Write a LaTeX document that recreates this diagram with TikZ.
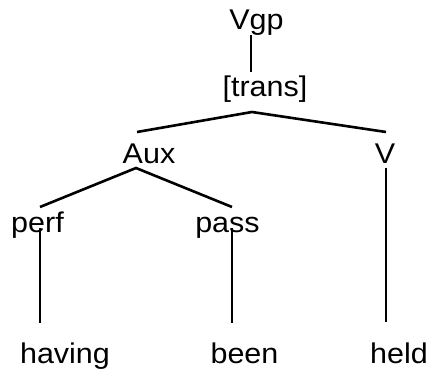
\documentclass[tikz,border=0pt]{standalone}
\usepackage{fontspec}
\setmainfont{Liberation Sans}[FakeStretch=1.07]
\begin{document}
\begin{tikzpicture}[x=1pt,y=-1pt,
  lbl/.style={anchor=base,inner sep=0pt,font=\fontsize{28.5}{30}\selectfont},
  branch/.style={line width=2.6pt,line cap=butt,line join=miter}]
\useasboundingbox (0,0) rectangle (429,372);
% labels
\node[lbl] (vgp) at (256.5,30) {Vgp};
\node[lbl] (trans) at (265,96) {[trans]};
\node[lbl] (aux) at (149,163) {Aux};
\node[lbl] (v) at (385,163) {V};
\node[lbl] (perf) at (37.5,232) {perf};
\node[lbl] (pass) at (227.5,232) {pass};
\node[lbl] (having) at (65,363) {having};
\node[lbl] (been) at (244.5,363) {been};
\node[lbl] (held) at (399,363) {held};
% connector end points
\coordinate (vgpB) at (251,35);
\coordinate (transT) at (251,72);
\coordinate (transB) at (252,112);
\coordinate (auxT) at (137,132);
\coordinate (vT) at (386,132);
\coordinate (auxB) at (136,168);
\coordinate (vB) at (386,168);
\coordinate (perfT) at (40,207);
\coordinate (passT) at (232,207);
\coordinate (perfB) at (40,228);
\coordinate (passB) at (232,228);
\coordinate (havingT) at (40,323);
\coordinate (beenT) at (232,323);
\coordinate (heldT) at (386,322);
% connectors
\draw[branch] (vgpB) -- (transT);
\draw[branch] (auxT) -- (transB) -- (vT);
\draw[branch] (perfT) -- (auxB) -- (passT);
\draw[branch] (vB) -- (heldT);
\draw[branch] (perfB) -- (havingT);
\draw[branch] (passB) -- (beenT);
\end{tikzpicture}
\end{document}
